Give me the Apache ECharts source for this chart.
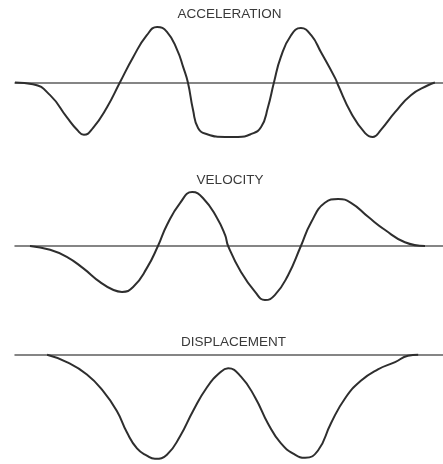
<!DOCTYPE html>
<html>
<head>
<meta charset="utf-8">
<script src="https://cdn.jsdelivr.net/npm/echarts@6/dist/echarts.min.js"></script>
<style>
  html, body { margin: 0; padding: 0; background: #ffffff; }
  #chart { width: 443px; height: 464px; }
</style>
</head>
<body>
<div id="chart"></div>
<script>
// Panel titles
const panelTitles = ['ACCELERATION', 'VELOCITY', 'DISPLACEMENT'];

// Acceleration pulse: time (0-100) and normalised amplitude
const accelTime = [0, 4.2, 8.2, 12.1, 14.5, 16.1, 18.2, 21.5, 24.5, 27.6, 30.8, 33.2, 35.5, 37.9, 39.3, 40.4,
  41.6, 42.8, 44.9, 49.1, 52.1, 55.1, 57.5, 59.1, 60.5, 62.1, 64.5, 66.8, 69.2, 71.5, 74.8, 75.5,
  78.5, 81.8, 83.6, 85.5, 88.8, 92.5, 96.5, 98.1];
const accelValue = [0, -0.03, -0.23, -0.63, -0.86, -0.95, -0.83, -0.45, 0, 0.46, 0.86, 1.01, 0.92, 0.59, 0.28, 0,
  -0.5, -0.83, -0.94, -0.99, -0.99, -0.94, -0.81, -0.45, 0, 0.46, 0.86, 0.99, 0.86, 0.55, 0.08, -0.05,
  -0.55, -0.92, -0.99, -0.86, -0.54, -0.23, -0.05, 0];

// Velocity
const velTime = [3.5, 8.2, 12.1, 15.9, 19.9, 22.9, 25.0, 27.6, 30.8, 33.4, 35.5, 38.6, 41.4, 43.9, 47.2, 49.1,
  49.8, 52.8, 56.1, 58.4, 60.7, 63.8, 66.8, 69.2, 72.4, 75.5, 78.5, 82.5, 86.4, 91.1, 95.8];
const velValue = [0, -0.07, -0.2, -0.41, -0.67, -0.81, -0.85, -0.76, -0.41, 0, 0.39, 0.8, 1.0, 0.89, 0.52, 0.2,
  0, -0.48, -0.85, -1.0, -0.91, -0.54, 0, 0.44, 0.8, 0.87, 0.8, 0.54, 0.3, 0.07, 0];

// Displacement
const dispTime = [7.5, 12.1, 16.8, 20.6, 23.8, 26.2, 28.5, 30.8, 32.7, 35.5, 38.6, 41.6, 44.9, 47.9, 49.8,
  52.8, 56.1, 59.1, 62.1, 65.4, 67.8, 70.8, 73.8, 77.1, 80.8, 84.8, 88.8, 91.8, 94.2];
const dispValue = [0, -0.07, -0.19, -0.35, -0.54, -0.75, -0.9, -0.97, -1.0, -0.96, -0.78, -0.54, -0.31, -0.17, -0.13,
  -0.21, -0.41, -0.66, -0.85, -0.96, -0.99, -0.92, -0.66, -0.42, -0.25, -0.14, -0.07, -0.01, 0];

function pairs(ts, vs) { return ts.map((t, i) => [t, vs[i]]); }

const ink = '#2e2e2e';
const axisInk = '#5e5e5e';

// One panel per quantity, stacked vertically
const grids = [
  { left: 15, width: 428, top: 22, height: 121 },
  { left: 15, width: 428, top: 186.6, height: 118.8 },
  { left: 15, width: 428, top: 344.4, height: 121.9 }
];
const yRanges = [[-1.1, 1.1], [-1.1, 1.1], [-1.05, 0.1]];
const seriesData = [pairs(accelTime, accelValue), pairs(velTime, velValue), pairs(dispTime, dispValue)];
const titlePos = [[229.5, 7], [230, 173], [233.5, 335]];

const chart = echarts.init(document.getElementById('chart'), null, { renderer: 'canvas' });

chart.setOption({
  backgroundColor: '#ffffff',
  animation: false,
  title: panelTitles.map((t, i) => ({
    text: t,
    left: titlePos[i][0],
    top: titlePos[i][1],
    textAlign: 'center',
    padding: 0,
    textStyle: { fontFamily: 'Liberation Sans, Arial, sans-serif', fontSize: 13.5, fontWeight: 'normal', color: '#3a3a3a' }
  })),
  grid: grids,
  xAxis: grids.map((g, i) => ({
    type: 'value', gridIndex: i, min: 0, max: 100,
    axisLine: { show: true, onZero: true, lineStyle: { color: axisInk, width: 1.5 } },
    axisTick: { show: false }, axisLabel: { show: false }, splitLine: { show: false }
  })),
  yAxis: grids.map((g, i) => ({
    type: 'value', gridIndex: i, min: yRanges[i][0], max: yRanges[i][1],
    show: false, splitLine: { show: false }
  })),
  series: seriesData.map((d, i) => ({
    type: 'line', xAxisIndex: i, yAxisIndex: i, data: d,
    smooth: 0.5, showSymbol: false, clip: false,
    lineStyle: { color: ink, width: 2 }
  }))
});
</script>
</body>
</html>
